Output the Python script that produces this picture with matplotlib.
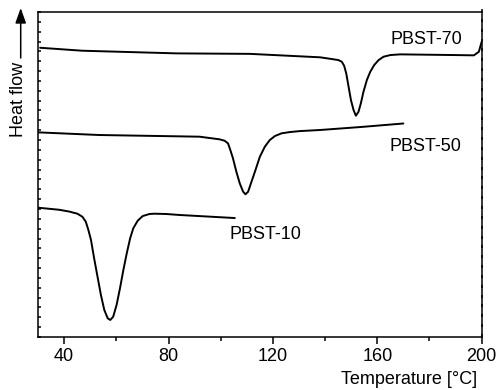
"""
DSC heating curves of PBST copolyesters
"""

import matplotlib

matplotlib.use("Agg")
import matplotlib.pyplot as plt  # type: ignore
from matplotlib.ticker import MultipleLocator  # type: ignore

plt.rcParams["font.family"] = ["Liberation Sans", "DejaVu Sans"]
plt.rcParams["font.size"] = 13

# PBST-70
temp_70 = [30.8, 46.9, 83.1, 111.2, 138.1, 141.9, 145.1, 146.4, 147.3, 148.1,
           149.0, 149.9, 150.9, 151.8, 152.8, 153.7, 154.7, 156.0, 157.3, 158.8,
           160.5, 162.4, 165.0, 168.8, 189.3, 197.0, 198.9, 200.0]
flow_70 = [29.37, 29.07, 28.80, 28.75, 28.40, 28.25, 28.12, 27.95, 27.54, 26.77,
           25.41, 24.06, 23.05, 22.47, 22.87, 23.73, 24.90, 26.09, 26.93, 27.61,
           28.12, 28.46, 28.63, 28.70, 28.63, 28.60, 28.96, 29.98]

# PBST-50
temp_50 = [30.0, 53.5, 91.9, 99.6, 101.5, 102.8, 103.7, 104.7, 106.0, 107.3,
           108.6, 109.5, 110.5, 111.8, 113.1, 115.0, 116.9, 118.8, 120.8, 123.3,
           126.5, 130.4, 138.1, 153.5, 170.0]
flow_50 = [20.78, 20.51, 20.34, 20.07, 19.93, 19.66, 18.98, 18.14, 16.78, 15.60,
           14.75, 14.49, 14.75, 15.77, 16.78, 18.30, 19.32, 20.00, 20.41, 20.68,
           20.81, 20.91, 21.02, 21.32, 21.68]

# PBST-10
temp_10 = [30.0, 38.1, 41.9, 45.1, 47.0, 48.3, 49.3, 50.3, 51.5, 52.8,
           54.1, 55.4, 56.7, 57.7, 58.8, 60.1, 61.4, 62.7, 64.0, 65.3,
           66.5, 68.2, 70.1, 72.7, 74.6, 79.1, 84.2, 105.4]
flow_10 = [13.13, 12.92, 12.74, 12.52, 12.21, 11.71, 10.86, 9.85, 7.99, 6.12,
           4.26, 2.74, 1.90, 1.73, 2.06, 3.25, 4.94, 6.80, 8.50, 10.02,
           11.04, 11.81, 12.28, 12.49, 12.52, 12.49, 12.39, 12.08]

x_ticks = [40, 80, 120, 160, 200]

fig = plt.figure(figsize=(4.99, 3.90), dpi=100)
ax = fig.add_axes([0.0762, 0.1359, 0.8891, 0.8333])

for temp, flow in [(temp_70, flow_70), (temp_50, flow_50), (temp_10, flow_10)]:
    ax.plot(temp, flow, color="black", lw=1.4, solid_capstyle="round",
            solid_joinstyle="round")

ax.text(165, 30.25, "PBST-70", ha="left", va="center")
ax.text(164.6, 19.34, "PBST-50", ha="left", va="center")
ax.text(103.5, 10.36, "PBST-10", ha="left", va="center")

ax.set_xlim(30, 200)
ax.set_ylim(0, 33)
ax.set_xticks(x_ticks)
ax.xaxis.set_minor_locator(MultipleLocator(20))
ax.yaxis.set_major_locator(MultipleLocator(1))
ax.tick_params(axis="x", which="major", direction="out", length=5, width=1.1, pad=3)
ax.tick_params(axis="x", which="minor", direction="out", length=3, width=1.1)
ax.tick_params(axis="y", which="major", direction="in", length=2.5, width=1.1,
               labelleft=False, right=True)
for t in ax.yaxis.get_major_ticks():
    t.tick2line.set_marker(2)  # right side ticks pointing outward
for sp in ax.spines.values():
    sp.set_linewidth(1.1)

ax.set_xlabel("Temperature [°C]", ha="right", va="top")
ax.xaxis.set_label_coords(0.989, -0.105)

# y axis label with arrow
fig.text(18.5 / 499, 1 - 137 / 390, "Heat flow", rotation=90, ha="center", va="bottom")
ax.annotate("", xy=(20.7 / 499, 1 - 8 / 390), xytext=(20.7 / 499, 1 - 58 / 390),
            xycoords="figure fraction", textcoords="figure fraction",
            arrowprops=dict(arrowstyle="-|>,head_length=0.7,head_width=0.25",
                            color="black", lw=1.1, shrinkA=0, shrinkB=0))

plt.savefig("out.png", dpi=100)
